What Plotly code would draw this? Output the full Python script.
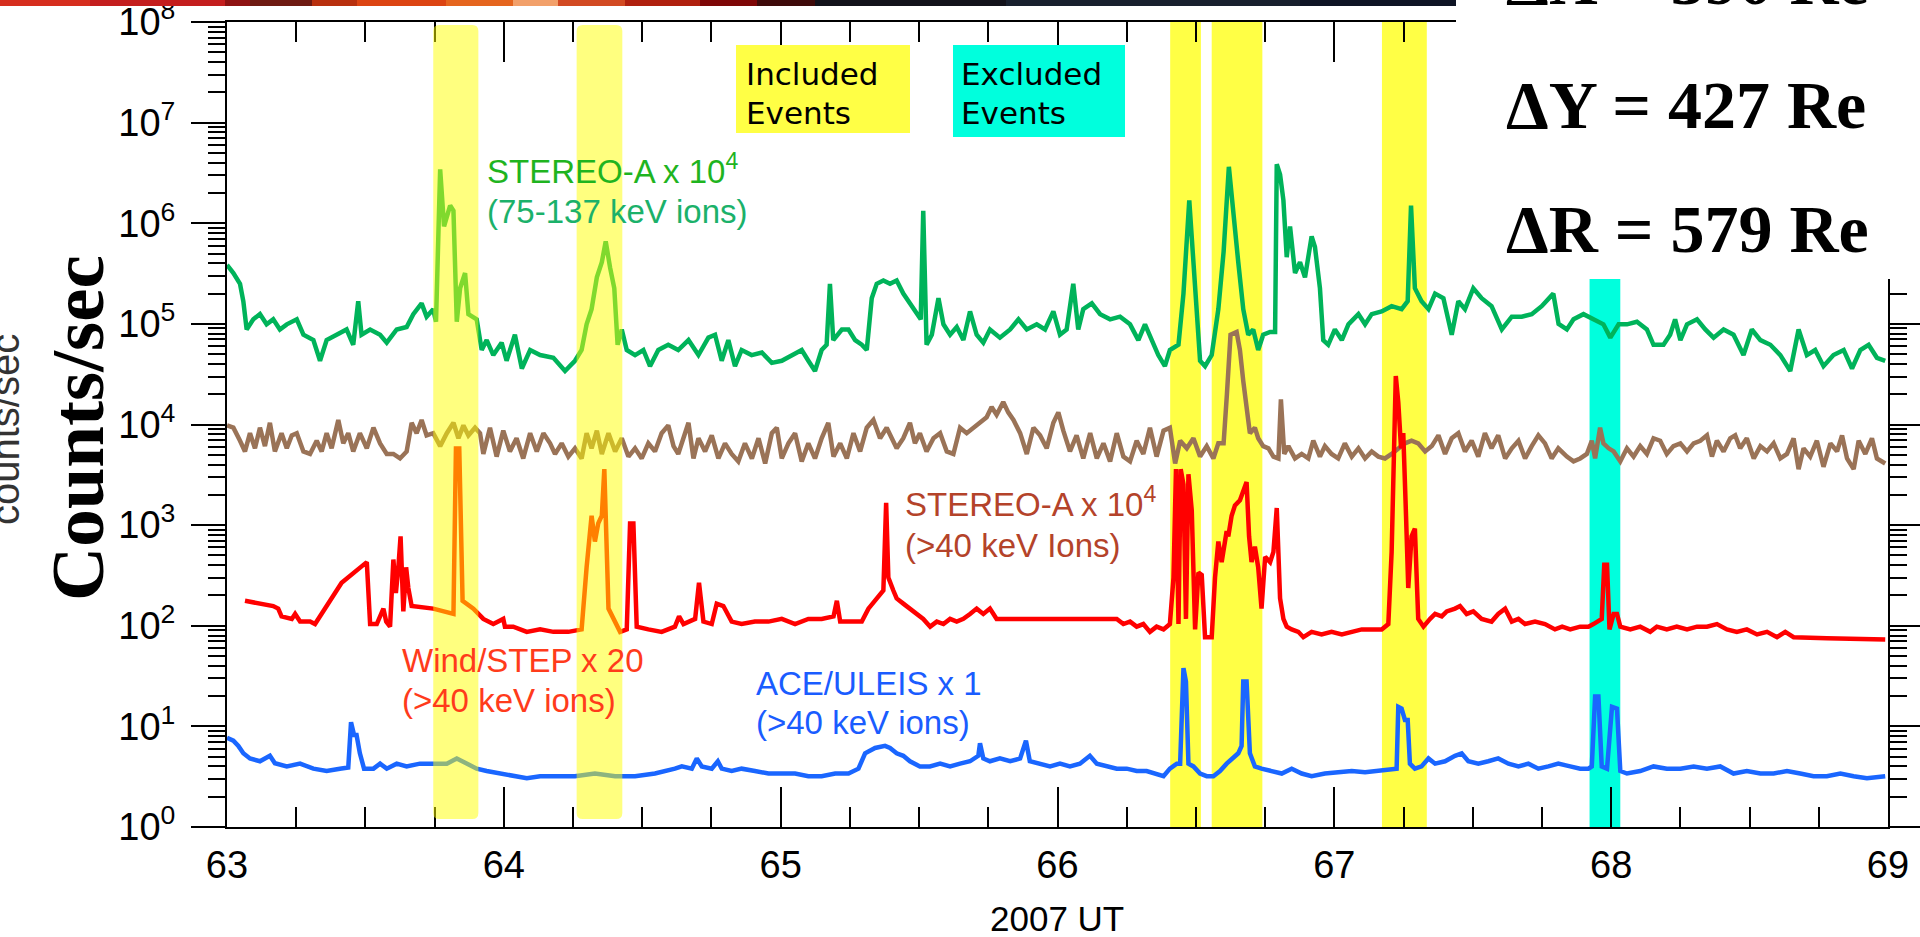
import plotly.graph_objects as go

# ---------------- data (day of year 2007, counts/sec) ----------------
green_pts = [
    (63.0, 3.85e5), (63.023, 3.2e5), (63.047, 2.5e5), (63.059, 1.68e5), (63.071, 8.8e4), (63.095, 1.11e5),
    (63.119, 1.25e5), (63.143, 9.9e4), (63.167, 1.11e5), (63.191, 8.8e4), (63.216, 9.9e4), (63.252, 1.11e5),
    (63.276, 7.8e4), (63.312, 6.9e4), (63.336, 4.3e4), (63.36, 6.9e4), (63.396, 7.8e4), (63.432, 8.8e4),
    (63.456, 6.2e4), (63.474, 1.68e5), (63.486, 7.8e4), (63.517, 8.8e4), (63.553, 7.8e4), (63.577, 6.5e4),
    (63.613, 8.8e4), (63.649, 9.3e4), (63.673, 1.25e5), (63.703, 1.6e5), (63.721, 1.18e5), (63.745, 1.4e5),
    (63.755, 1.05e5), (63.77, 3.44e6), (63.784, 9.3e5), (63.806, 1.5e6), (63.818, 1.33e6), (63.83, 1.05e5),
    (63.842, 2.26e5), (63.86, 3.2e5), (63.872, 1.25e5), (63.902, 1.11e5), (63.92, 5.5e4), (63.938, 6.9e4),
    (63.962, 4.9e4), (63.992, 6.5e4), (64.01, 4.3e4), (64.04, 7.8e4), (64.065, 3.6e4), (64.095, 5.5e4),
    (64.131, 4.9e4), (64.179, 4.6e4),
    (64.221, 3.4e4), (64.257, 4.3e4), (64.281, 5.5e4), (64.299, 9.9e4), (64.317, 1.4e5), (64.336, 2.9e5),
    (64.354, 4.1e5), (64.368, 6.6e5), (64.384, 3.6e5), (64.399, 2.26e5), (64.411, 6.2e4), (64.426, 8.8e4),
    (64.444, 5.5e4), (64.474, 4.9e4), (64.504, 5.5e4), (64.528, 3.8e4), (64.558, 5.5e4), (64.594, 6.2e4),
    (64.63, 5.5e4), (64.667, 6.9e4), (64.703, 4.9e4), (64.739, 7.3e4), (64.763, 7.8e4), (64.787, 4.3e4),
    (64.811, 6.9e4), (64.835, 3.8e4), (64.859, 5.5e4), (64.895, 4.9e4), (64.932, 5.2e4), (64.968, 4.1e4),
    (65.004, 4.3e4), (65.04, 4.9e4), (65.076, 5.5e4), (65.1, 4.3e4), (65.124, 3.4e4), (65.148, 5.5e4),
    (65.166, 6.2e4), (65.178, 2.5e5), (65.19, 6.9e4), (65.221, 8.8e4), (65.245, 8.8e4), (65.269, 6.9e4),
    (65.293, 6.2e4), (65.311, 5.5e4), (65.329, 1.8e5), (65.347, 2.5e5), (65.371, 2.7e5),
    (65.395, 2.5e5), (65.419, 2.7e5), (65.443, 2.0e5), (65.467, 1.6e5), (65.491, 1.25e5), (65.506, 1.11e5),
    (65.515, 1.33e6), (65.527, 6.2e4), (65.546, 7.8e4), (65.57, 1.8e5), (65.588, 9.9e4), (65.612, 7.8e4),
    (65.636, 9.3e4), (65.66, 6.9e4), (65.684, 1.33e5), (65.708, 7.8e4), (65.732, 6.5e4), (65.756, 8.8e4),
    (65.792, 7.3e4), (65.829, 8.8e4), (65.859, 1.11e5), (65.889, 8.8e4), (65.925, 9.9e4), (65.955, 8.8e4),
    (65.985, 1.33e5), (66.009, 7.8e4), (66.033, 8.8e4), (66.057, 2.5e5), (66.075, 8.8e4), (66.093, 1.4e5),
    (66.124, 1.6e5), (66.154, 1.25e5), (66.19, 1.11e5), (66.226, 1.18e5), (66.262, 9.9e4), (66.292, 6.9e4),
    (66.316, 9.9e4), (66.34, 6.9e4), (66.364, 4.9e4), (66.388, 3.8e4), (66.406, 5.5e4), (66.437, 6.2e4),
    (66.455, 2.0e5), (66.476, 1.69e6), (66.493, 3.6e5), (66.515, 4.3e4), (66.533, 3.8e4), (66.557, 4.9e4),
    (66.581, 1.4e5), (66.6, 5.2e5),
    (66.619, 3.64e6), (66.635, 1.18e6), (66.653, 4.1e5), (66.671, 1.4e5), (66.689, 7.8e4), (66.707, 8.8e4),
    (66.725, 5.5e4), (66.743, 7.8e4), (66.768, 8.3e4), (66.786, 8.3e4), (66.792, 3.86e6), (66.804, 3.05e6),
    (66.816, 1.69e6), (66.828, 4.6e5), (66.84, 9.3e5), (66.858, 3.2e5), (66.876, 4.1e5), (66.894, 2.9e5),
    (66.918, 7.4e5), (66.93, 5.8e5), (66.948, 2.26e5), (66.96, 6.9e4), (66.978, 6.2e4), (67.002, 8.8e4),
    (67.027, 6.9e4), (67.051, 9.9e4), (67.087, 1.25e5), (67.111, 9.9e4), (67.135, 1.25e5), (67.171, 1.33e5),
    (67.207, 1.5e5), (67.243, 1.4e5), (67.265, 1.68e5), (67.277, 1.5e6), (67.291, 2.26e5), (67.315, 1.68e5),
    (67.34, 1.4e5), (67.364, 2.0e5), (67.394, 1.8e5), (67.424, 7.8e4), (67.448, 1.68e5), (67.472, 1.4e5),
    (67.502, 2.26e5), (67.532, 1.8e5), (67.568, 1.5e5), (67.605, 8.8e4), (67.641, 1.18e5), (67.677, 1.18e5),
    (67.713, 1.25e5), (67.749, 1.5e5), (67.791, 2.0e5), (67.81, 1.0e5),
    (67.84, 8.8e4), (67.864, 1.11e5), (67.9, 1.25e5), (67.936, 1.11e5), (67.972, 9.9e4), (67.997, 7.3e4),
    (68.027, 9.9e4), (68.057, 9.9e4), (68.093, 1.05e5), (68.129, 8.8e4), (68.153, 6.2e4), (68.189, 6.2e4),
    (68.213, 7.8e4), (68.231, 1.11e5), (68.25, 6.9e4), (68.274, 9.9e4), (68.31, 1.11e5), (68.34, 8.8e4),
    (68.37, 7.3e4), (68.406, 8.8e4), (68.442, 7.8e4), (68.478, 4.9e4), (68.508, 8.8e4), (68.539, 6.9e4),
    (68.575, 6.2e4), (68.611, 4.9e4), (68.647, 3.4e4), (68.677, 8.8e4), (68.707, 4.9e4), (68.737, 5.5e4),
    (68.767, 3.8e4), (68.803, 4.9e4), (68.84, 5.5e4), (68.87, 3.6e4), (68.9, 5.5e4), (68.93, 6.2e4),
    (68.96, 4.6e4), (68.99, 4.3e4),
]

brown_pts = [
    (63.0, 9.8e3), (63.023, 9.3e3), (63.047, 6.9e3), (63.065, 5.4e3), (63.083, 8.2e3), (63.101, 5.8e3),
    (63.119, 9.3e3), (63.137, 6.1e3), (63.155, 1.04e4), (63.173, 5.4e3), (63.197, 8.2e3), (63.216, 5.8e3),
    (63.234, 7.8e3), (63.252, 8.2e3), (63.276, 5.4e3), (63.3, 5.1e3), (63.324, 6.9e3), (63.342, 5.4e3),
    (63.36, 8.2e3), (63.378, 5.8e3), (63.402, 1.11e4), (63.42, 6.5e3), (63.438, 8.2e3), (63.456, 5.4e3),
    (63.48, 8.2e3), (63.505, 5.8e3), (63.529, 9.3e3), (63.553, 6.5e3), (63.577, 5.1e3), (63.601, 5.1e3),
    (63.625, 4.6e3), (63.649, 5.4e3), (63.667, 1.04e4), (63.685, 8.2e3), (63.703, 1.11e4), (63.721, 7.8e3),
    (63.745, 8.2e3), (63.77, 6.1e3), (63.794, 8.2e3), (63.818, 1.04e4), (63.836, 7.3e3), (63.854, 9.8e3),
    (63.872, 7.8e3), (63.896, 9.3e3), (63.914, 8.2e3), (63.926, 5.1e3), (63.95, 9.3e3), (63.974, 4.8e3),
    (63.998, 8.7e3), (64.022, 5.4e3), (64.046, 7.3e3), (64.07, 4.6e3), (64.095, 8.2e3), (64.119, 5.4e3),
    (64.143, 8.2e3), (64.167, 6.5e3),
    (64.185, 5.1e3), (64.209, 6.5e3), (64.233, 4.8e3), (64.257, 5.8e3), (64.281, 4.6e3), (64.299, 8.2e3),
    (64.317, 5.8e3), (64.336, 8.7e3), (64.354, 5.1e3), (64.378, 8.2e3), (64.402, 5.4e3), (64.426, 7.3e3),
    (64.45, 4.8e3), (64.474, 5.8e3), (64.498, 4.6e3), (64.522, 6.5e3), (64.546, 5.4e3), (64.57, 8.2e3),
    (64.594, 9.8e3), (64.613, 6.1e3), (64.63, 5.1e3), (64.649, 7.3e3), (64.667, 1.04e4), (64.685, 4.6e3),
    (64.703, 7.3e3), (64.727, 5.4e3), (64.751, 7.8e3), (64.775, 4.6e3), (64.799, 6.5e3), (64.823, 5.1e3),
    (64.847, 4.3e3), (64.871, 6.5e3), (64.896, 4.6e3), (64.92, 7.3e3), (64.944, 4.1e3), (64.968, 8.2e3),
    (64.986, 9.3e3), (65.004, 4.6e3), (65.028, 6.5e3), (65.052, 8.2e3), (65.076, 4.3e3), (65.1, 6.5e3),
    (65.124, 4.6e3), (65.148, 7.3e3), (65.172, 1.04e4), (65.191, 4.8e3), (65.215, 6.5e3), (65.239, 4.6e3),
    (65.263, 8.2e3), (65.287, 5.4e3), (65.311, 9.3e3), (65.335, 1.11e4), (65.359, 7.3e3), (65.383, 9.3e3),
    (65.419, 5.8e3), (65.443, 7.3e3), (65.467, 1.04e4), (65.485, 6.5e3), (65.503, 8.2e3), (65.527, 5.4e3),
    (65.552, 7.3e3), (65.576, 8.2e3), (65.6, 5.4e3), (65.624, 5.1e3), (65.648, 9.3e3), (65.672, 8.2e3),
    (65.696, 9.3e3), (65.72, 1.04e4), (65.744, 1.18e4), (65.762, 1.49e4), (65.78, 1.25e4), (65.804, 1.67e4),
    (65.822, 1.32e4), (65.841, 1.11e4), (65.865, 8.2e3), (65.889, 5.1e3), (65.913, 9.3e3), (65.937, 7.8e3),
    (65.961, 5.8e3), (65.985, 1.04e4), (66.003, 1.32e4), (66.021, 8.7e3), (66.045, 5.4e3), (66.069, 7.8e3),
    (66.093, 4.6e3), (66.118, 8.2e3), (66.142, 4.6e3), (66.166, 6.5e3), (66.19, 4.3e3), (66.214, 8.2e3),
    (66.238, 4.8e3), (66.262, 4.3e3), (66.286, 6.9e3), (66.31, 5.1e3), (66.334, 9.3e3), (66.358, 4.8e3),
    (66.383, 8.7e3), (66.406, 9.3e3), (66.425, 4.1e3), (66.443, 6.9e3), (66.467, 5.8e3), (66.491, 7.3e3),
    (66.515, 4.8e3), (66.539, 6.1e3), (66.563, 4.6e3), (66.581, 6.5e3), (66.6, 6.5e3), (66.612, 2.0e4),
    (66.625, 7.8e4), (66.647, 8.3e4), (66.659, 5.5e4), (66.671, 2.7e4), (66.683, 1.32e4), (66.695, 8.2e3),
    (66.713, 9.3e3), (66.725, 7.3e3), (66.743, 6.1e3), (66.762, 5.8e3), (66.78, 4.8e3), (66.798, 4.6e3),
    (66.807, 1.78e4), (66.819, 5.1e3), (66.834, 6.1e3), (66.858, 4.6e3), (66.882, 5.1e3), (66.906, 4.6e3),
    (66.924, 6.9e3), (66.948, 4.8e3), (66.966, 6.1e3), (66.99, 5.1e3), (67.014, 4.6e3), (67.038, 6.5e3),
    (67.063, 4.8e3), (67.087, 5.8e3), (67.111, 4.6e3), (67.135, 5.4e3), (67.159, 4.8e3), (67.183, 4.6e3),
    (67.207, 5.1e3), (67.231, 5.8e3), (67.255, 6.5e3), (67.279, 6.9e3), (67.303, 6.5e3), (67.328, 5.4e3),
    (67.352, 6.1e3), (67.376, 7.8e3), (67.4, 5.1e3), (67.424, 7.3e3), (67.448, 8.2e3), (67.472, 5.4e3),
    (67.496, 6.9e3), (67.52, 4.8e3), (67.544, 8.2e3), (67.568, 5.8e3), (67.592, 7.8e3), (67.617, 4.6e3),
    (67.641, 5.8e3), (67.665, 6.9e3), (67.689, 4.6e3), (67.713, 6.1e3), (67.737, 7.8e3), (67.761, 6.5e3),
    (67.785, 4.6e3), (67.809, 5.8e3),
    (67.84, 4.8e3), (67.864, 4.3e3), (67.888, 4.6e3), (67.912, 5.1e3), (67.93, 6.9e3), (67.942, 4.6e3),
    (67.96, 9.3e3), (67.972, 6.5e3), (67.991, 5.8e3), (68.009, 5.4e3), (68.033, 4.3e3), (68.057, 5.8e3),
    (68.081, 4.8e3), (68.105, 6.1e3), (68.129, 5.1e3), (68.153, 7.3e3), (68.177, 6.9e3), (68.201, 5.1e3),
    (68.225, 6.1e3), (68.25, 6.5e3), (68.274, 5.4e3), (68.298, 6.5e3), (68.322, 6.9e3), (68.346, 7.8e3),
    (68.364, 4.8e3), (68.382, 6.9e3), (68.406, 5.4e3), (68.43, 7.3e3), (68.448, 7.8e3), (68.466, 5.8e3),
    (68.49, 7.3e3), (68.515, 4.6e3), (68.539, 6.1e3), (68.563, 5.4e3), (68.587, 6.5e3), (68.611, 4.6e3),
    (68.635, 5.1e3), (68.659, 7.3e3), (68.677, 3.6e3), (68.695, 5.8e3), (68.719, 4.8e3), (68.743, 6.9e3),
    (68.767, 3.8e3), (68.792, 6.5e3), (68.816, 5.4e3), (68.834, 7.8e3), (68.852, 4.6e3), (68.876, 3.6e3),
    (68.894, 6.9e3), (68.918, 5.1e3), (68.942, 7.3e3), (68.96, 4.6e3), (68.99, 4.1e3),
]

red_pts = [
    (63.065, 177), (63.167, 157), (63.185, 148), (63.197, 124), (63.234, 117), (63.246, 131), (63.264, 110),
    (63.3, 110), (63.318, 104), (63.36, 157), (63.414, 267), (63.505, 429), (63.517, 104), (63.541, 104),
    (63.565, 148), (63.575, 110), (63.589, 98), (63.601, 455), (63.61, 211), (63.619, 381), (63.627, 774),
    (63.637, 139), (63.647, 381), (63.655, 237), (63.667, 157), (63.745, 148), (63.818, 131), (63.827, 5780),
    (63.839, 5780), (63.851, 177), (63.89, 148), (63.926, 117), (63.962, 104), (63.998, 117), (64.004, 98),
    (64.034, 98), (64.083, 87), (64.131, 92), (64.179, 87), (64.233, 87), (64.281, 92), (64.299, 381),
    (64.317, 1240), (64.329, 687), (64.341, 1040), (64.354, 1240), (64.363, 3600), (64.378, 148),
    (64.396, 117), (64.42, 87), (64.444, 92), (64.456, 1040), (64.468, 1040), (64.48, 98), (64.522, 92),
    (64.57, 87), (64.618, 98), (64.633, 124), (64.649, 104), (64.691, 117), (64.705, 267), (64.721, 110),
    (64.751, 104), (64.769, 166), (64.793, 157), (64.823, 110), (64.859, 104), (64.907, 110), (64.956, 110),
    (65.004, 117), (65.052, 104), (65.1, 117), (65.148, 117), (65.191, 124), (65.203, 177), (65.215, 110),
    (65.245, 110), (65.293, 110), (65.317, 148), (65.347, 187), (65.371, 224), (65.381, 1670), (65.389, 301),
    (65.407, 224), (65.419, 187), (65.443, 166), (65.467, 148), (65.491, 131), (65.515, 117), (65.54, 98),
    (65.564, 110), (65.588, 104), (65.612, 117), (65.636, 110), (65.66, 117), (65.684, 131), (65.708, 148),
    (65.732, 131), (65.756, 148), (65.78, 117), (65.804, 117), (66.214, 117), (66.238, 104), (66.262, 110),
    (66.286, 98), (66.31, 104), (66.334, 87), (66.358, 98), (66.383, 92), (66.406, 104), (66.419, 301),
    (66.428, 3600), (66.437, 104), (66.445, 3600), (66.455, 2530), (66.464, 117), (66.473, 3200),
    (66.485, 1400), (66.497, 92), (66.509, 338), (66.521, 320), (66.533, 77), (66.557, 77), (66.569, 301),
    (66.581, 687), (66.593, 429), (66.611, 871), (66.617, 774), (66.629, 1240), (66.641, 1570),
    (66.659, 1770), (66.671, 2240), (66.683, 2680), (66.692, 774), (66.701, 429), (66.713, 611),
    (66.725, 381), (66.737, 148), (66.75, 483), (66.768, 429), (66.78, 543), (66.792, 1480), (66.804, 187),
    (66.816, 117), (66.828, 98), (66.846, 92), (66.87, 87), (66.888, 77), (66.918, 87), (66.954, 82),
    (66.99, 87), (67.027, 82), (67.063, 87), (67.099, 92), (67.135, 92), (67.171, 92), (67.195, 104),
    (67.207, 543), (67.222, 30300), (67.231, 16700), (67.241, 5780), (67.249, 8240), (67.259, 1240),
    (67.267, 237), (67.279, 774), (67.291, 924), (67.303, 117), (67.322, 98), (67.346, 117), (67.364, 131),
    (67.388, 124), (67.406, 139), (67.436, 148), (67.454, 157), (67.478, 131), (67.502, 139), (67.532, 117),
    (67.568, 110), (67.592, 131), (67.617, 148), (67.641, 110), (67.665, 117), (67.689, 104), (67.725, 110),
    (67.761, 104), (67.797, 92), (67.823, 98), (67.852, 92), (67.888, 98), (67.918, 98), (67.936, 104),
    (67.954, 110), (67.966, 117), (67.975, 405), (67.985, 405), (67.994, 92), (68.009, 131), (68.021, 131),
    (68.033, 98), (68.069, 92), (68.105, 98), (68.141, 87), (68.165, 98), (68.201, 92), (68.237, 98),
    (68.274, 92), (68.31, 98), (68.346, 98), (68.382, 104), (68.418, 92), (68.454, 87), (68.49, 92),
    (68.527, 82), (68.563, 87), (68.599, 77), (68.629, 87), (68.659, 77), (68.779, 75), (68.9, 73),
    (68.99, 73),
]

blue_pts = [
    (63.0, 7.7), (63.023, 7.2), (63.041, 6.4), (63.059, 5.4), (63.083, 4.8), (63.119, 4.5), (63.155, 5.1),
    (63.173, 4.3), (63.216, 4.0), (63.264, 4.26), (63.312, 3.8), (63.36, 3.6), (63.408, 3.8), (63.438, 3.9),
    (63.448, 11.0), (63.459, 8.2), (63.468, 8.2), (63.48, 5.4), (63.495, 3.8), (63.529, 3.8), (63.553, 4.26),
    (63.577, 3.8), (63.613, 4.26), (63.649, 4.0), (63.697, 4.26), (63.745, 4.26), (63.794, 4.26),
    (63.83, 4.8), (63.866, 4.26), (63.902, 3.8), (63.938, 3.6), (63.986, 3.4), (64.034, 3.2), (64.083, 3.05),
    (64.131, 3.2), (64.179, 3.2), (64.257, 3.2), (64.329, 3.4), (64.402, 3.2), (64.474, 3.2), (64.546, 3.4),
    (64.618, 3.8), (64.643, 4.0), (64.679, 3.8), (64.697, 4.8), (64.715, 4.0), (64.751, 3.8), (64.773, 4.5),
    (64.787, 3.8), (64.823, 3.6), (64.859, 3.8), (64.907, 3.6), (64.956, 3.4), (65.004, 3.4), (65.052, 3.4),
    (65.1, 3.2), (65.148, 3.2), (65.197, 3.4), (65.245, 3.4), (65.281, 3.8), (65.305, 5.4), (65.341, 6.1),
    (65.377, 6.4), (65.395, 6.1), (65.419, 5.4), (65.443, 5.1), (65.467, 4.5), (65.503, 4.0), (65.539, 4.0),
    (65.576, 4.26), (65.612, 4.0), (65.648, 4.26), (65.684, 4.5), (65.714, 5.1), (65.72, 6.8), (65.732, 4.8),
    (65.756, 4.5), (65.792, 4.8), (65.829, 4.5), (65.865, 4.8), (65.886, 7.2), (65.9, 4.5), (65.937, 4.26),
    (65.973, 4.0), (66.009, 4.26), (66.045, 4.0), (66.081, 4.26), (66.117, 5.1), (66.142, 4.26),
    (66.178, 4.0), (66.214, 3.8), (66.25, 3.8), (66.286, 3.6), (66.322, 3.6), (66.358, 3.4), (66.383, 3.2),
    (66.406, 3.8), (66.431, 4.26), (66.443, 4.26), (66.455, 38.0), (66.464, 28.0), (66.473, 4.26),
    (66.491, 4.0), (66.515, 3.4), (66.539, 3.2), (66.563, 3.2), (66.587, 3.6), (66.611, 4.26), (66.653, 5.4),
    (66.665, 6.4), (66.671, 28.0), (66.683, 28.0), (66.695, 5.4), (66.713, 4.0), (66.737, 3.8), (66.774, 3.6),
    (66.81, 3.4), (66.846, 3.8), (66.882, 3.4), (66.918, 3.2), (66.966, 3.4), (67.014, 3.5), (67.063, 3.6),
    (67.111, 3.5), (67.159, 3.6), (67.207, 3.7), (67.225, 3.8), (67.231, 15.6), (67.243, 15.0),
    (67.255, 11.6), (67.265, 11.6), (67.273, 4.26), (67.291, 3.8), (67.315, 4.0), (67.34, 4.8),
    (67.364, 4.26), (67.4, 4.5), (67.436, 5.1), (67.46, 5.4), (67.484, 4.5), (67.52, 4.26), (67.556, 4.5),
    (67.592, 4.8), (67.629, 4.26), (67.665, 4.0), (67.701, 4.26), (67.737, 3.8), (67.773, 4.0),
    (67.809, 4.26), (67.852, 4.0), (67.888, 3.8), (67.918, 3.8), (67.93, 4.0), (67.942, 19.8), (67.954, 19.8),
    (67.966, 4.0), (67.985, 3.8), (68.003, 15.6), (68.021, 15.0), (68.033, 3.6), (68.057, 3.4), (68.105, 3.6),
    (68.153, 4.0), (68.201, 3.8), (68.25, 3.8), (68.298, 4.0), (68.346, 3.8), (68.394, 4.0), (68.442, 3.4),
    (68.49, 3.6), (68.539, 3.4), (68.587, 3.4), (68.635, 3.6), (68.683, 3.4), (68.731, 3.2), (68.779, 3.2),
    (68.828, 3.4), (68.876, 3.2), (68.924, 3.05), (68.99, 3.2),
]

# event intervals (day of year)
included_soft = [(63.745, 63.908), (64.263, 64.428)]
included_events = [(66.407, 66.518), (66.557, 66.740), (67.172, 67.334)]
excluded_events = [(67.922, 68.033)]

y_tick_vals = [1, 10, 100, 1e3, 1e4, 1e5, 1e6, 1e7, 1e8]
y_tick_text = ["10<sup>%d</sup>" % k for k in range(9)]

# ---------------- figure ----------------
L, R, T, B, W, H = 227, 32, 22, 110, 1920, 937
PW, PH = W - L - R, H - T - B


def PX(x):
    return (x - L) / PW


def PY(y):
    return (H - B - y) / PH


fig = go.Figure()
series = [(green_pts, "#00B35A"), (brown_pts, "#9A7357"), (red_pts, "#FF0000"), (blue_pts, "#1A66FF")]
for pts, col in series:
    t, v = zip(*pts)
    fig.add_trace(go.Scatter(x=list(t), y=list(v), mode="lines", line=dict(color=col, width=4.5),
                             showlegend=False, hoverinfo="skip"))

shapes = []
for a, b in included_events:
    shapes.append(dict(type="rect", xref="x", yref="paper", x0=a, x1=b, y0=0, y1=1,
                       fillcolor="#FFFF45", line=dict(width=0), layer="below"))
for a, b in excluded_events:
    shapes.append(dict(type="rect", xref="x", yref="paper", x0=a, x1=b, y0=0, y1=1,
                       fillcolor="#00FFDD", line=dict(width=0), layer="below"))
# soft (translucent, rounded) included bands drawn over the curves
rx, ry = 6 / 276.8, 6 / PH
yb, yt = PY(819), PY(25)
for a, b in included_soft:
    path = (f"M {a+rx},{yb} L {b-rx},{yb} Q {b},{yb} {b},{yb+ry} L {b},{yt-ry} Q {b},{yt} {b-rx},{yt} "
            f"L {a+rx},{yt} Q {a},{yt} {a},{yt-ry} L {a},{yb+ry} Q {a},{yb} {a+rx},{yb} Z")
    shapes.append(dict(type="path", xref="x", yref="paper", path=path,
                       fillcolor="rgba(255,255,0,0.5)", line=dict(width=0), layer="above"))

# legend boxes
shapes.append(dict(type="rect", xref="paper", yref="paper", x0=PX(736), x1=PX(910), y0=PY(133), y1=PY(45),
                   fillcolor="#FFFF45", line=dict(width=0), layer="above"))
shapes.append(dict(type="rect", xref="paper", yref="paper", x0=PX(953), x1=PX(1125), y0=PY(137), y1=PY(45),
                   fillcolor="#00FFDD", line=dict(width=0), layer="above"))
# white panel top-right (slide overlay)
shapes.append(dict(type="rect", xref="paper", yref="paper", x0=PX(1456), x1=PX(1930), y0=PY(279), y1=PY(-10),
                   fillcolor="white", line=dict(width=0), layer="above"))
# decorative slide banner strip at the top
strip = [(0, 90, "#D62E1E"), (90, 225, "#C41E1E"), (225, 250, "#8E1212"), (250, 312, "#6E1A12"),
         (312, 357, "#B8300E"), (357, 446, "#DC4412"), (446, 513, "#E5651E"), (513, 558, "#F2A06A"),
         (558, 625, "#D24A22"), (625, 700, "#B0200E"), (700, 757, "#7E0606"), (757, 815, "#3E0A0A"),
         (815, 1006, "#12121A"), (1006, 1300, "#18202E"), (1300, 1456, "#0E1424")]
for x0, x1, c in strip:
    shapes.append(dict(type="rect", xref="paper", yref="paper", x0=PX(x0), x1=PX(x1), y0=PY(6), y1=PY(-4),
                       fillcolor=c, line=dict(width=0), layer="above"))

SANS = "Liberation Sans"
SERIF = "Liberation Serif"


def ann(text, x, base, fs, color, family=SANS, weight="normal", desc=0.212):
    return dict(text=text, xref="paper", yref="paper", x=PX(x), y=PY(base + desc * fs),
                xanchor="left", yanchor="bottom", showarrow=False, borderpad=0, borderwidth=0,
                font=dict(family=family, size=fs, color=color, weight=weight))


annotations = [
    ann("STEREO-A x 10<sup>4</sup>", 487, 183, 33, "#1FB41F"),
    ann("(75-137 keV ions)", 487, 223, 33, "#1BB16A"),
    ann("Wind/STEP x 20", 402, 672, 33, "#FF3B1B"),
    ann("(>40 keV ions)", 402, 712, 33, "#FF3B1B"),
    ann("STEREO-A x 10<sup>4</sup>", 905, 516, 33, "#B4432A"),
    ann("(>40 keV Ions)", 905, 557, 33, "#B4432A"),
    ann("ACE/ULEIS x 1", 756, 695, 33, "#1A5CFF"),
    ann("(>40 keV ions)", 756, 734, 33, "#1A5CFF"),
    ann("Included", 746, 85, 31, "black", family="DejaVu Sans", desc=0.236),
    ann("Events", 746, 124, 31, "black", family="DejaVu Sans", desc=0.236),
    ann("Excluded", 961, 85, 31, "black", family="DejaVu Sans", desc=0.236),
    ann("Events", 961, 124, 31, "black", family="DejaVu Sans", desc=0.236),
    ann("ΔX = 390 Re", 1506, 4, 68, "black", family=SERIF, weight="bold", desc=0.216),
    ann("ΔY = 427 Re", 1506, 128, 68, "black", family=SERIF, weight="bold", desc=0.216),
    ann("ΔR = 579 Re", 1506, 252, 68, "black", family=SERIF, weight="bold", desc=0.216),
    dict(text="2007 UT", xref="paper", yref="paper", x=PX(1057), y=PY(931 + 0.212 * 35),
         xanchor="center", yanchor="bottom", showarrow=False, borderpad=0, borderwidth=0,
         font=dict(family=SANS, size=35, color="black")),
    dict(text="counts/sec", xref="paper", yref="paper", x=PX(5), y=PY(430), textangle=-90,
         xanchor="center", yanchor="middle", showarrow=False, borderpad=0, borderwidth=0,
         font=dict(family=SANS, size=40, color="#333333")),
    dict(text="Counts/sec", xref="paper", yref="paper", x=PX(77), y=PY(428), textangle=-90,
         xanchor="center", yanchor="middle", showarrow=False, borderpad=0, borderwidth=0,
         font=dict(family=SERIF, size=75, color="black", weight="bold")),
]

minor_y = [m * 10 ** k for k in range(8) for m in range(2, 10)]

fig.update_layout(width=W, height=H, margin=dict(l=L, r=R, t=T, b=B, pad=0, autoexpand=False),
                  paper_bgcolor="white", plot_bgcolor="white", showlegend=False,
                  shapes=shapes, annotations=annotations)
fig.update_xaxes(range=[63, 69], tick0=63, dtick=1, ticks="inside", ticklen=40, tickwidth=2,
                 tickcolor="black", showline=True, linewidth=2, linecolor="black", mirror="ticks",
                 showgrid=False, zeroline=False, ticklabelstandoff=3, automargin=False,
                 tickfont=dict(family=SANS, size=38, color="black"),
                 minor=dict(tick0=63, dtick=0.25, ticks="inside", ticklen=20, tickwidth=2,
                            tickcolor="black", showgrid=False))
fig.update_yaxes(type="log", range=[0, 8.0002], tickvals=y_tick_vals, ticktext=y_tick_text, ticks="outside",
                 ticklen=34, tickwidth=2, tickcolor="black", showline=True, linewidth=2,
                 linecolor="black", mirror="ticks", showgrid=False, zeroline=False, ticklabelstandoff=8,
                 ticklabeloverflow="allow", automargin=False,
                 tickfont=dict(family=SANS, size=38, color="black"),
                 minor=dict(tickvals=minor_y, ticks="outside", ticklen=17, tickwidth=2,
                            tickcolor="black", showgrid=False))

fig.write_html("out.html", config={"displayModeBar": False})
